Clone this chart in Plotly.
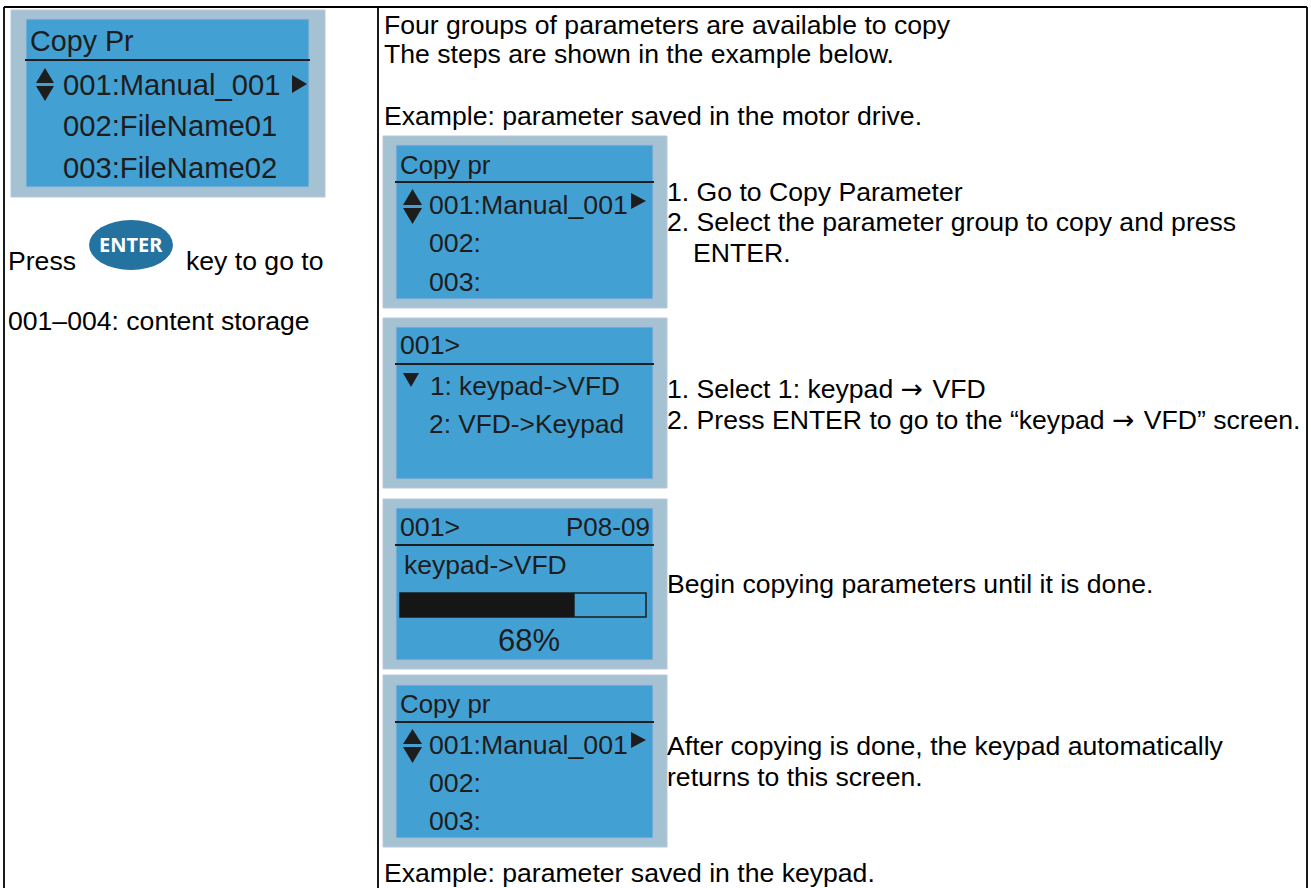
import plotly.graph_objects as go

W, H = 1311, 888
SANS = "Liberation Sans"
INK = "#1d1d1d"
OUTER = "#a4c2d1"
INNER = "#43a0d3"
INNER_EDGE = "#a3b6dc"
ARROW = '<span style="font-family:DejaVu Sans">→</span>\u200a'

# page rules (x0, y0, x1, y1)
border_lines = [
    (4, 7, 1307, 7), (4, 7, 4, 888), (378, 7, 378, 888), (1307, 7, 1307, 888),
]
# keypad screens: outer box, inner box, header rule
panels = [
    ((11, 10, 325, 197), (26, 19, 309, 187), (25, 60, 310)),
    ((383, 136, 667, 308), (396, 145, 653, 299), (395, 182, 654)),
    ((383, 318, 667, 488), (396, 327, 653, 479), (395, 364, 654)),
    ((383, 499, 667, 669), (396, 508, 653, 660), (395, 545, 654)),
    ((383, 675, 667, 847), (396, 685, 653, 838), (395, 722, 654)),
]
# triangles: (x-left, x-right, y-top, y-bottom, direction)
triangles = [
    (36, 54, 68, 83, "up"), (36, 54, 86, 101, "down"), (292, 307, 75, 93, "right"),
    (403, 422, 189, 205, "up"), (403, 422, 208, 224, "down"), (631, 646, 193, 209, "right"),
    (403, 419, 373, 387, "down"),
    (403, 422, 729, 744, "up"), (403, 422, 747, 763, "down"), (631, 646, 732, 748, "right"),
]
# prose text: (x, y-centre, string)
body_text = [
    (384, 25, "Four groups of parameters are available to copy"),
    (384, 54, "The steps are shown in the example below."),
    (384, 116, "Example: parameter saved in the motor drive."),
    (667, 192, "1. Go to Copy Parameter"),
    (667, 222, "2. Select the parameter group to copy and press"),
    (693, 253, "ENTER."),
    (667, 388, f"1. Select 1: keypad {ARROW} VFD"),
    (667, 419, f"2. Press ENTER to go to the “keypad {ARROW} VFD” screen."),
    (667, 584, "Begin copying parameters until it is done."),
    (667, 746, "After copying is done, the keypad automatically"),
    (667, 777, "returns to this screen."),
    (384, 873, "Example: parameter saved in the keypad."),
    (8, 261, "Press"),
    (186, 261, "key to go to"),
    (8, 321, "001–004: content storage"),
]
# screen text: (x, y-centre, string, size, anchor)
screen_text = [
    (30, 41, "Copy Pr", 28.7, "left"),
    (63, 85, "001:Manual_001", 29.2, "left"),
    (63, 126, "002:FileName01", 29.2, "left"),
    (63, 168, "003:FileName02", 29.2, "left"),
    (400, 165, "Copy pr", 25.8, "left"),
    (429, 205, "001:Manual_001", 26.7, "left"),
    (429, 243, "002:", 26.7, "left"),
    (429, 282, "003:", 26.7, "left"),
    (400, 345, "001>", 26.7, "left"),
    (430, 386, "1: keypad->VFD", 26.2, "left"),
    (429, 424, "2: VFD->Keypad", 26.3, "left"),
    (400, 527, "001>", 26.7, "left"),
    (650, 527, "P08-09", 26, "right"),
    (404, 565, "keypad->VFD", 26.5, "left"),
    (529, 640, "68%", 31, "center"),
    (400, 704, "Copy pr", 25.8, "left"),
    (429, 745, "001:Manual_001", 26.7, "left"),
    (429, 783, "002:", 26.7, "left"),
    (429, 821, "003:", 26.7, "left"),
]
progress_box = (400, 593, 646, 617)
progress_pct = 0.71
enter_key = (89, 220, 173, 270)


def tri_path(x0, x1, y0, y1, d):
    if d == "up":
        pts = [(x0, y1), (x1, y1), ((x0 + x1) / 2, y0)]
    elif d == "down":
        pts = [(x0, y0), (x1, y0), ((x0 + x1) / 2, y1)]
    else:
        pts = [(x0, y0), (x0, y1), (x1, (y0 + y1) / 2)]
    return "M" + " L".join(f"{a},{b}" for a, b in pts) + " Z"


shapes = []
for x0, y0, x1, y1 in border_lines:
    shapes.append(dict(type="line", x0=x0, y0=y0, x1=x1, y1=y1, line=dict(color="#000", width=1.8)))
for outer, inner, rule in panels:
    shapes.append(dict(type="rect", x0=outer[0], y0=outer[1], x1=outer[2], y1=outer[3],
                       fillcolor=OUTER, line=dict(color="#b9c6dc", width=1)))
    shapes.append(dict(type="rect", x0=inner[0], y0=inner[1], x1=inner[2], y1=inner[3],
                       fillcolor=INNER, line=dict(color=INNER_EDGE, width=1)))
    shapes.append(dict(type="line", x0=rule[0], y0=rule[1], x1=rule[2], y1=rule[1],
                       line=dict(color=INK, width=2)))
for t in triangles:
    shapes.append(dict(type="path", path=tri_path(*t), fillcolor=INK, line=dict(width=0)))

px0, py0, px1, py1 = progress_box
shapes.append(dict(type="rect", x0=px0, y0=py0, x1=px1, y1=py1, line=dict(color=INK, width=1.5)))
shapes.append(dict(type="rect", x0=px0, y0=py0, x1=px0 + (px1 - px0) * progress_pct, y1=py1,
                   fillcolor="#161616", line=dict(width=0)))
ex0, ey0, ex1, ey1 = enter_key
shapes.append(dict(type="circle", x0=ex0, y0=ey0, x1=ex1, y1=ey1, fillcolor="#24729f", line=dict(width=0)))

annotations = []
for x, y, s in body_text:
    annotations.append(dict(x=x, y=y, text=s, xanchor="left", yanchor="middle", showarrow=False,
                            font=dict(family=SANS, size=26.6, color="#000")))
for x, y, s, size, a in screen_text:
    annotations.append(dict(x=x, y=y, text=s, xanchor=a, yanchor="middle", showarrow=False,
                            font=dict(family=SANS, size=size, color=INK)))
annotations.append(dict(x=131, y=244, text="<b>ENTER</b>", xanchor="center", yanchor="middle",
                        showarrow=False, font=dict(family="Noto Sans", size=20, color="#fff")))
for a in annotations:
    a.update(xref="x", yref="y", borderpad=0, borderwidth=0)

fig = go.Figure()
fig.update_layout(
    width=W, height=H, margin=dict(l=0, r=0, t=0, b=0),
    paper_bgcolor="#fff", plot_bgcolor="#fff", showlegend=False,
    xaxis=dict(range=[0, W], visible=False, fixedrange=True),
    yaxis=dict(range=[H, 0], visible=False, fixedrange=True),
    shapes=shapes, annotations=annotations,
)
fig.write_html("out.html", config=dict(displayModeBar=False),
               post_script="document.body.style.margin='0';document.documentElement.style.overflow='hidden';")
